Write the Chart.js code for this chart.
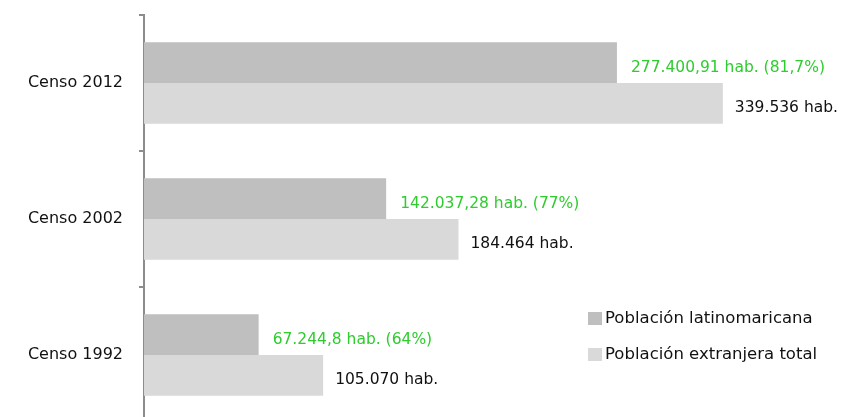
<!DOCTYPE html>
<html>
<head>
<meta charset="utf-8">
<script src="https://cdn.jsdelivr.net/npm/chart.js@4"></script>
<style>
  html, body { margin: 0; padding: 0; background: #fff; overflow: hidden; }
</style>
</head>
<body>
<canvas id="myChart" width="843" height="430"></canvas>
<script>
let categories = ["Censo 2012", "Censo 2002", "Censo 1992"];
let latinos = [277400.91, 142037.28, 67244.8];
let totales = [339536, 184464, 105070];
let latinoLabels = ["277.400,91 hab. (81,7%)", "142.037,28 hab. (77%)", "67.244,8 hab. (64%)"];
let totalLabels = ["339.536 hab.", "184.464 hab.", "105.070 hab."];
let seriesNames = ["Población latinomaricana", "Población extranjera total"];

let font = "DejaVu Sans";

// etiquetas a la derecha de cada barra
let valueLabels = {
    id: 'valueLabels',
    afterDatasetsDraw(chart) {
        let ctx = chart.ctx;
        ctx.save();
        ctx.font = '15.5px "' + font + '"';
        ctx.textBaseline = 'middle';
        ctx.textAlign = 'left';
        let texts = [latinoLabels, totalLabels];
        let colors = ['#2ecc2e', '#111111'];
        let gaps = [14, 12];
        chart.data.datasets.forEach((ds, i) => {
            chart.getDatasetMeta(i).data.forEach((bar, j) => {
                ctx.fillStyle = colors[i];
                ctx.fillText(texts[i][j], bar.x + gaps[i], bar.y + 5);
            });
        });
        ctx.restore();
    }
};

// leyenda dentro del area
let legendBox = {
    id: 'legendBox',
    afterDraw(chart) {
        let ctx = chart.ctx;
        ctx.save();
        ctx.font = '16.5px "' + font + '"';
        ctx.textBaseline = 'middle';
        let x = 588, y = 319;
        chart.data.datasets.forEach((ds, i) => {
            ctx.fillStyle = ds.backgroundColor;
            ctx.fillRect(x, y + i * 36 - 7, 14, 13);
            ctx.fillStyle = '#111111';
            ctx.fillText(ds.label, x + 17, y + i * 36);
        });
        ctx.restore();
    }
};

let ctx = document.getElementById('myChart').getContext('2d');

let myChart = new Chart(ctx, {
    type: 'bar',
    data: {
        labels: categories,
        datasets: [
            { label: seriesNames[0], data: latinos, backgroundColor: '#bfbfbf' },
            { label: seriesNames[1], data: totales, backgroundColor: '#d9d9d9' }
        ]
    },
    options: {
        indexAxis: 'y',
        responsive: false,
        animation: false,
        layout: { padding: { top: 15, bottom: 7, left: 0, right: 0 } },
        datasets: { bar: { categoryPercentage: 0.6, barPercentage: 1.0 } },
        plugins: { legend: { display: false }, tooltip: { enabled: false } },
        scales: {
            x: { display: false, min: 0, max: 410000 },
            y: {
                afterFit(scale) {
                    scale.width = 144;
                    scale.paddingTop = 0;
                    scale.paddingBottom = 0;
                },
                border: { display: true, color: '#8c8c8c', width: 2 },
                grid: { drawOnChartArea: false, tickLength: 5, color: '#8c8c8c', offset: true, lineWidth: 2 },
                ticks: { color: '#111111', padding: 16, font: { family: font, size: 16 } }
            }
        }
    },
    plugins: [valueLabels, legendBox]
});
</script>
</body>
</html>
